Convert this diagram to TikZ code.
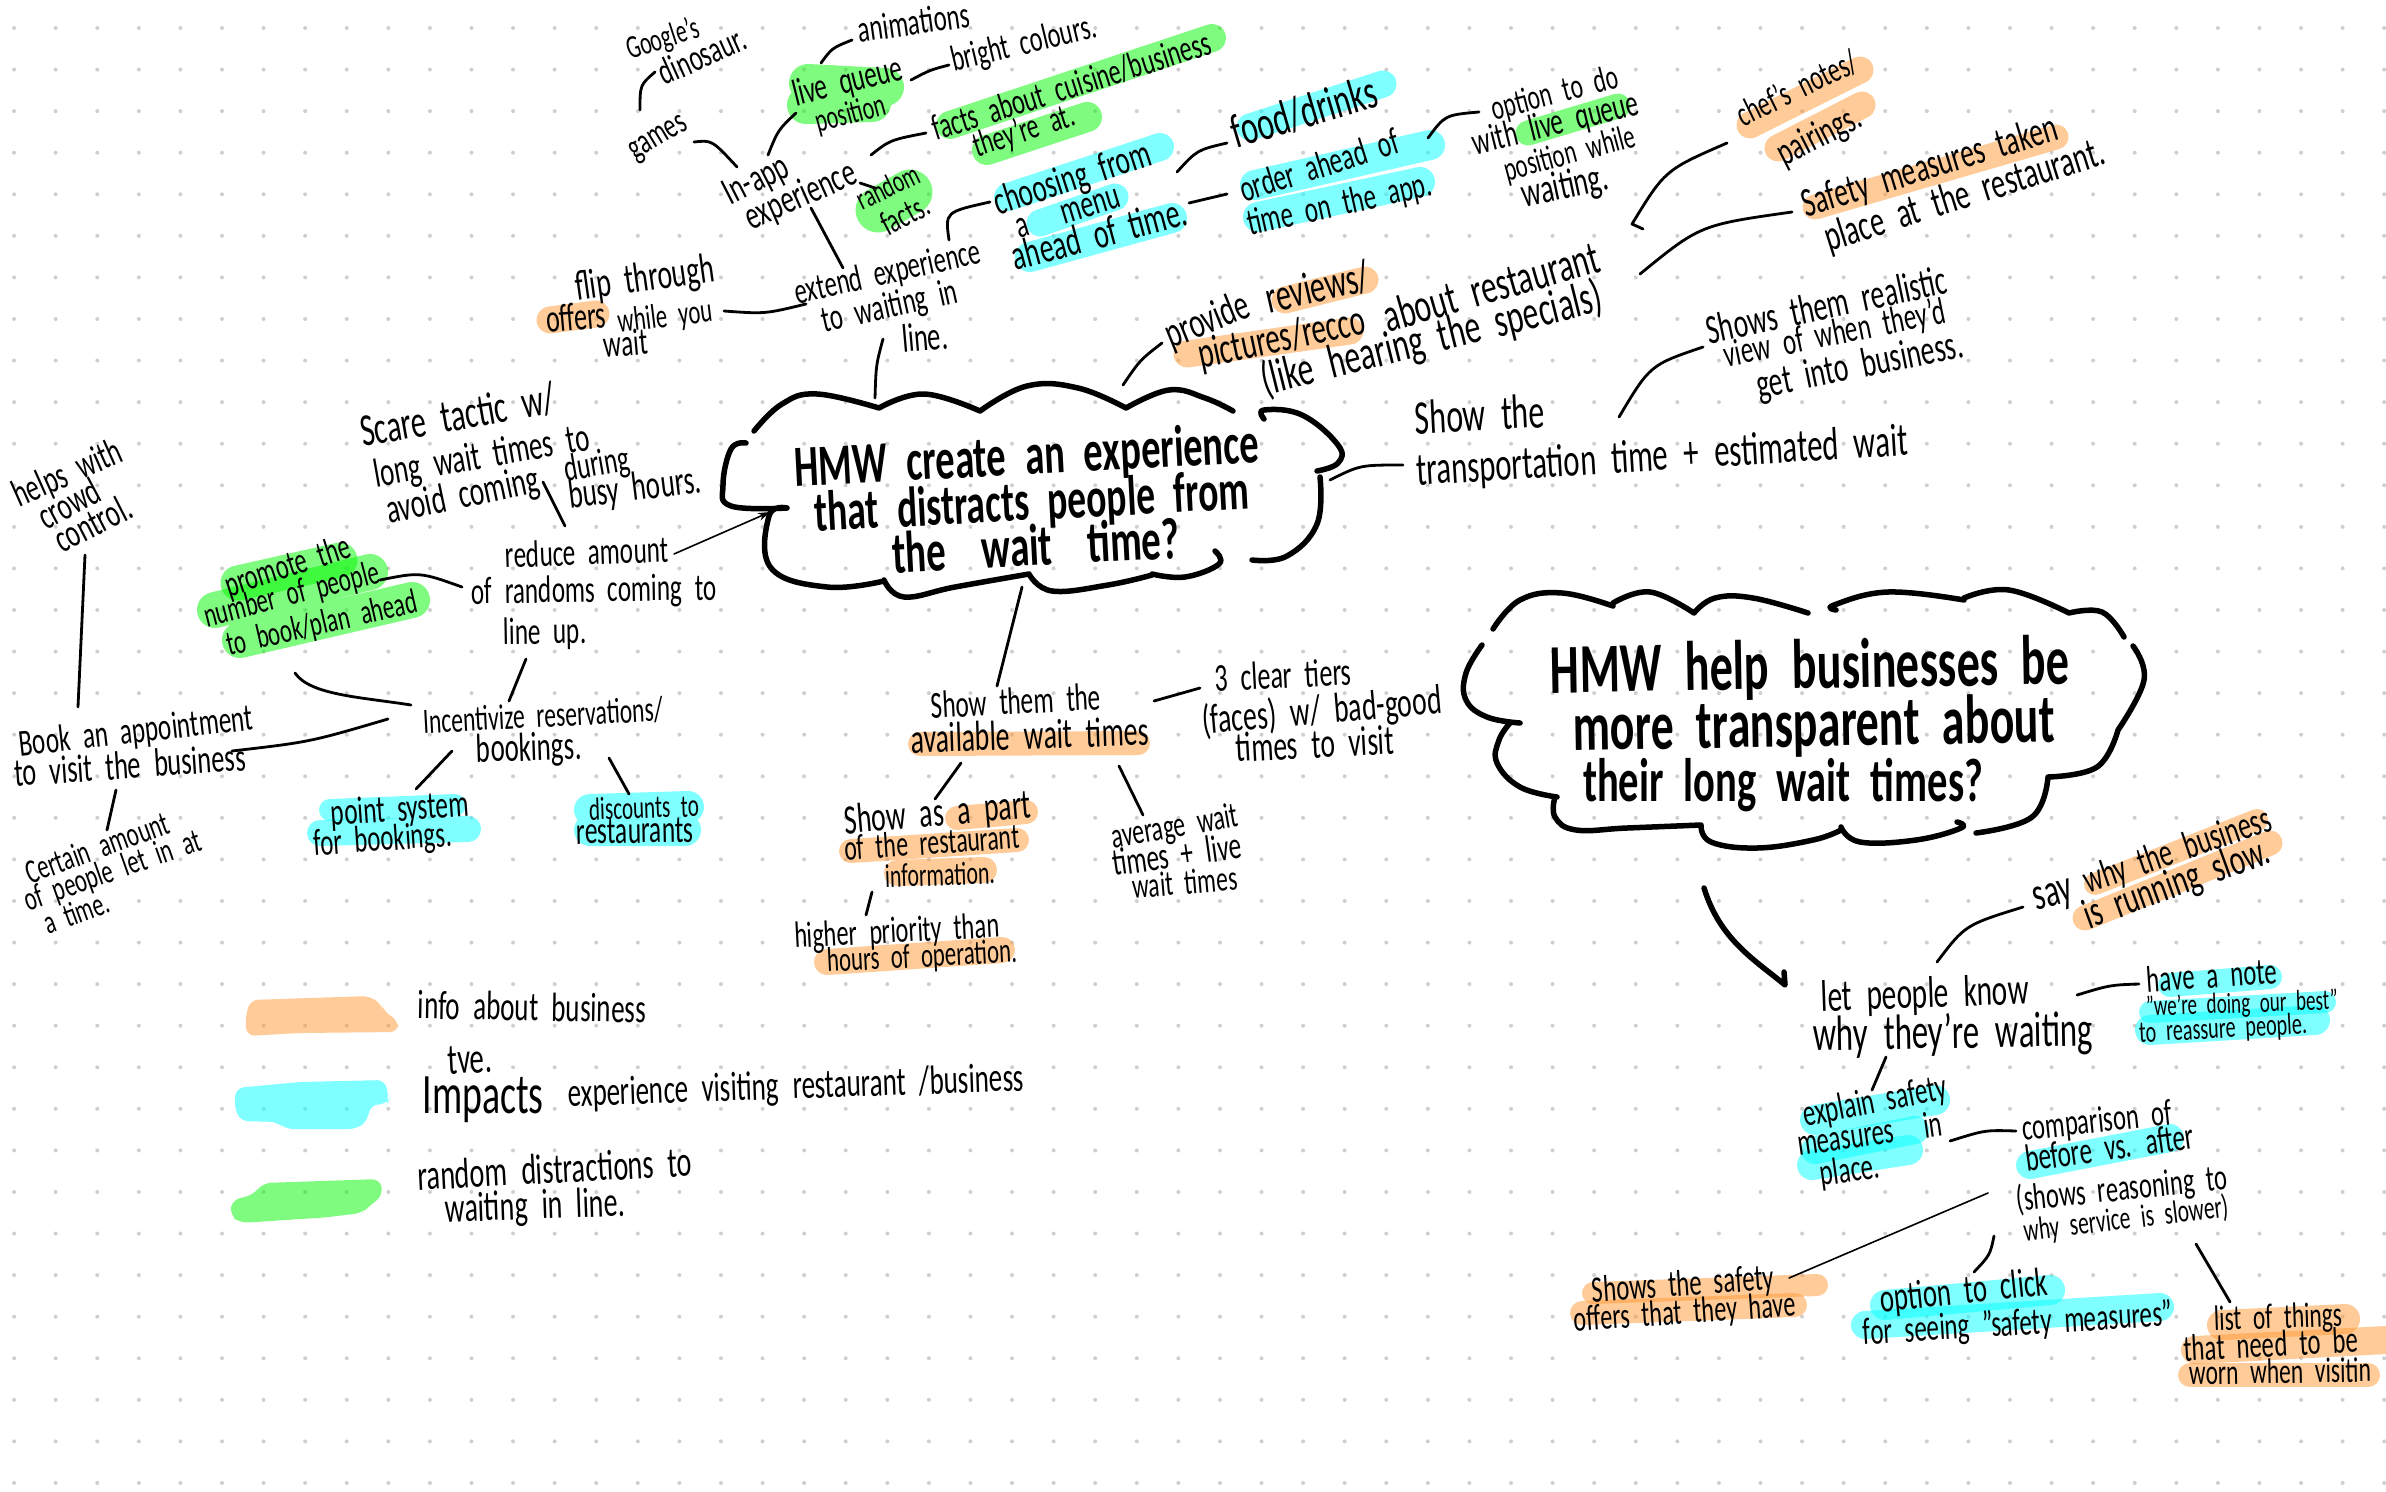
\documentclass[tikz,border=0pt]{standalone}
\usepackage{fontspec}
\usepackage{graphicx}
\usetikzlibrary{arrows.meta}
\setmainfont[FakeStretch=0.66,WordSpace=2.2]{Carlito}
\definecolor{hoc}{HTML}{FF9933}
\definecolor{hcc}{HTML}{00FFFF}
\definecolor{hgc}{HTML}{00F800}
\definecolor{dotc}{HTML}{CFCFCF}
\newlength\pxu
\setlength\pxu{0.01cm}
\newcommand\Tx[6][0]{\node[hwtext,rotate=#1] (#2) at (#3,#4) {\resizebox{#5\pxu}{!}{\vphantom{Ag}#6}};}
\tikzset{
  hwtext/.style={inner sep=0pt,outer sep=0pt,text=black,anchor=center},
  ho/.style={draw=hoc,draw opacity=.5,line cap=round,line join=round,line width=#1*0.01cm},
  hc/.style={draw=hcc,draw opacity=.5,line cap=round,line join=round,line width=#1*0.01cm},
  hg/.style={draw=hgc,draw opacity=.5,line cap=round,line join=round,line width=#1*0.01cm},
  conn/.style={draw=black,line width=0.028cm,line cap=round,line join=round},
  thinconn/.style={draw=black,line width=0.016cm,line cap=round},
  cloudline/.style={draw=black,line width=0.055cm,line cap=round,line join=round},
}
\begin{document}
\begin{tikzpicture}[x=0.01cm,y=-0.01cm]
\useasboundingbox (0,0) rectangle (2386,1491);
\fill[white] (0,0) rectangle (2386,1491);
% dot grid
\foreach \i in {0,...,57}{\foreach \j in {0,...,35}{
  \fill[dotc] ({14.1+41.58*\i},{28+41.57*\j}) circle[radius=2];}}
% highlights: green
\draw[hg=28] (950,125)--(1212,38);
\draw[hg=30] (987,150)--(1087,117);
\draw[hg=38] (808,83)--(885,87) (806,105)--(872,103);
\draw[hg=45] (878,210)--(910,192);
\draw[hg=25] (1528,133)--(1618,106);
\draw[hg=35] (238,583)--(340,560);
\draw[hg=36] (215,610)--(370,572) (240,640)--(412,600);
% highlights: cyan
\draw[hc=28] (1008,197)--(1160,147);
\draw[hc=27] (1040,223)--(1115,197);
\draw[hc=30] (1030,257)--(1172,218);
\draw[hc=27] (1250,127)--(1383,84);
\draw[hc=30] (1255,185)--(1430,145) (1258,217)--(1420,182);
\draw[hc=22] (330,810)--(455,805);
\draw[hc=26] (320,833)--(468,829);
\draw[hc=32] (590,810)--(688,807) (590,830)--(685,830);
\draw[hc=24] (2170,985)--(2270,977);
\draw[hc=22] (2150,1012)--(2325,1002);
\draw[hc=30] (2150,1030)--(2315,1020);
\draw[hc=30] (1815,1120)--(1935,1100);
\draw[hc=28] (1815,1150)--(1915,1130);
\draw[hc=30] (1812,1165)--(1908,1150);
\draw[hc=28] (2030,1165)--(2170,1138);
\draw[hc=30] (1885,1305)--(2050,1290);
\draw[hc=28] (1865,1325)--(2160,1307);
% highlights: orange
\draw[ho=27] (550,320)--(596,314);
\draw[ho=27] (1285,300)--(1365,280);
\draw[ho=27] (1187,354)--(1350,331);
\draw[ho=27] (1750,125)--(1860,70);
\draw[ho=27] (1778,148)--(1862,105);
\draw[ho=25] (1815,207)--(2056,137);
\draw[ho=24] (920,744)--(1138,743);
\draw[ho=24] (957,818)--(1026,812);
\draw[ho=24] (851,851)--(1017,840);
\draw[ho=26] (897,873)--(984,870);
\draw[ho=26] (827,962)--(1002,950);
\draw[ho=22] (1593,1293)--(1817,1285);
\draw[ho=24] (1582,1313)--(1795,1305);
\draw[ho=30] (2222,1325)--(2345,1319);
\draw[ho=28] (2195,1350)--(2386,1340);
\draw[ho=24] (2190,1375)--(2368,1375);
\draw[ho=22] (2095,884)--(2257,820);
\draw[ho=25] (2085,918)--(2270,843);
% legend swatches
\fill[hoc,fill opacity=.5,rounded corners=0.08cm] (250,1000)--(370,996)--(382,1005)--(384,1012)--(398,1020)--(398,1032)--(300,1033)--(247,1036)--(245,1020)--cycle;
\fill[hcc,fill opacity=.5,rounded corners=0.08cm] (236,1088)--(300,1082)--(385,1080)--(389,1100)--(387,1104)--(370,1105)--(368,1120)--(357,1129)--(285,1129)--(278,1122)--(240,1121)--(234,1105)--cycle;
\fill[hgc,fill opacity=.5,rounded corners=0.08cm] (263,1183)--(380,1179)--(383,1195)--(365,1210)--(362,1213)--(320,1218)--(316,1218)--(240,1223)--(230,1215)--(232,1200)--(253,1195)--cycle;
% cloud 1
\draw[cloudline]
 plot[smooth,tension=.7] coordinates {(754,431)(782,404)(817,394)(879,408)}
 plot[smooth,tension=.7] coordinates {(879,408)(924,394)(980,411)}
 plot[smooth,tension=.7] coordinates {(980,411)(1027,386)(1078,388)(1126,408)}
 plot[smooth,tension=.7] coordinates {(1126,408)(1169,390)(1205,398)(1233,411)}
 plot[smooth,tension=.7] coordinates {(1264,419)(1264,410)(1302,415)(1338,445)(1338,463)(1317,471)}
 plot[smooth,tension=.7] coordinates {(1320,477)(1317,524)(1287,556)(1252,560)}
 plot[smooth,tension=.7] coordinates {(1215,551)(1219,564)(1185,577)(1152,574)}
 plot[smooth,tension=.7] coordinates {(1152,575)(1108,585)(1052,591)(1029,574)}
 plot[smooth,tension=.7] coordinates {(1029,574)(955,587)(904,597)(884,580)}
 plot[smooth,tension=.7] coordinates {(884,581)(827,587)(771,568)(769,516)(787,508)}
 plot[smooth,tension=.7] coordinates {(787,508)(731,506)(723,485)(731,449)(746,443)};
% cloud 2
\draw[cloudline]
 plot[smooth,tension=.7] coordinates {(1493,629)(1520,600)(1562,593)(1613,606)}
 plot[smooth,tension=.7] coordinates {(1613,603)(1650,592)(1694,613)}
 plot[smooth,tension=.7] coordinates {(1694,613)(1715,598)(1753,598)(1808,613)}
 plot[smooth,tension=.7] coordinates {(1836,610)(1834,605)(1888,592)(1964,600)}
 plot[smooth,tension=.7] coordinates {(1964,598)(2009,590)(2069,613)}
 plot[smooth,tension=.7] coordinates {(2069,613)(2102,612)(2124,637)}
 plot[smooth,tension=.7] coordinates {(2133,646)(2144,680)(2118,730)}
 plot[smooth,tension=.7] coordinates {(2118,730)(2097,767)(2048,777)}
 plot[smooth,tension=.7] coordinates {(2048,777)(2032,817)(1976,833)}
 plot[smooth,tension=.7] coordinates {(1957,822)(1961,828)(1916,840)(1860,842)(1841,827)}
 plot[smooth,tension=.7] coordinates {(1841,830)(1813,840)(1757,848)(1711,842)(1701,825)}
 plot[smooth,tension=.7] coordinates {(1701,825)(1627,828)(1576,830)(1555,817)(1555,797)}
 plot[smooth,tension=.7] coordinates {(1557,797)(1520,787)(1497,763)(1499,740)(1510,723)}
 plot[smooth,tension=.7] coordinates {(1520,723)(1487,717)(1466,700)(1466,673)(1482,645)};
% texts: top
\Tx[18]{google}{663}{40}{75}{Google's}
\Tx[24]{dino}{703}{58}{92}{dinosaur.}
\Tx[31]{games}{658}{137}{62}{games}
\Tx[27]{inapp}{757}{182}{68}{In-app}
\Tx[24]{exper}{801}{197}{118}{experience}
\Tx[14]{live}{848}{83}{112}{live queue}
\Tx[15]{posn}{851}{115}{72}{position}
\Tx[8]{anim}{914}{25}{112}{animations}
\Tx[13.5]{bright}{1024}{45}{148}{bright colours.}
\Tx[17.5]{factsa}{1072}{88}{290}{facts about cuisine/business}
\Tx[18]{factsb}{1024}{132}{105}{they're at.}
\Tx[26]{rand}{889}{189}{66}{random}
\Tx[28]{randb}{906}{217}{50}{facts.}
\Tx[12.5]{extend}{888}{274}{190}{extend experience}
\Tx[12.5]{tow}{890}{308}{138}{to waiting in}
\Tx[5]{linew}{925}{340}{46}{line.}
\Tx[18]{choos}{1073}{180}{163}{choosing from}
\Tx[17]{menu}{1068}{214}{108}{a\hspace{0.9em}menu}
\Tx[15]{ahead}{1100}{237}{180}{ahead of time.}
\Tx[8]{flip}{645}{280}{140}{flip through}
\Tx[5]{offers}{576}{320}{60}{offers}
\Tx[7]{whileyou}{665}{318}{95}{while you}
\Tx[5]{waitw}{626}{346}{44}{wait}
\Tx[22]{provide}{1208}{322}{88}{provide}
\Tx[13]{reviews}{1318}{290}{105}{reviews/}
\Tx[12]{pictures}{1282}{340}{170}{pictures/recco}
\Tx[16]{about}{1492}{290}{222}{about restaurant}
\Tx[14]{special}{1432}{340}{350}{(like hearing the specials)}
\Tx[26]{chef}{1798}{90}{130}{chef's notes/}
\Tx[27]{pair}{1820}{137}{90}{pairings.}
\Tx[17]{safe}{1930}{168}{265}{Safety measures taken}
\Tx[17.5]{place}{1965}{197}{292}{place at the restaurant.}
\Tx[16.5]{food}{1305}{115}{150}{food/drinks}
\Tx[17.5]{order}{1320}{168}{165}{order ahead of}
\Tx[12.5]{tapp}{1340}{206}{188}{time on the app.}
\Tx[14.5]{option}{1555}{95}{130}{option to do}
\Tx[14]{withl}{1556}{125}{170}{with live queue}
\Tx[15]{posw}{1570}{155}{135}{position while}
\Tx[12]{waitg}{1565}{188}{88}{waiting.}
\Tx[12]{shows}{1827}{308}{245}{Shows them realistic}
\Tx[11.5]{view}{1835}{335}{225}{view of when they'd}
\Tx[11.5]{getin}{1860}{367}{210}{get into business.}
\Tx[3]{showt}{1480}{418}{130}{Show the}
\Tx[3.5]{transp}{1662}{458}{492}{transportation time + estimated wait}
% main question 1
\Tx[3]{hmwa}{1027}{459}{465}{\bfseries HMW create an experience}
\Tx[3]{hmwb}{1032}{505}{435}{\bfseries that distracts people from}
\Tx[3]{hmwc}{1036}{550}{287}{\bfseries the\hspace{0.6em}wait\hspace{0.6em}time?}
% centre-bottom
\Tx[3]{showth}{1016}{704}{170}{Show them the}
\Tx[2]{avail}{1030}{738}{238}{available wait times}
\Tx[3]{tiers}{1283}{678}{137}{3 clear tiers}
\Tx[5]{faces}{1322}{712}{240}{(faces) w/ bad-good}
\Tx[3]{tvisit}{1315}{747}{158}{times to visit}
\Tx[5]{showas}{938}{815}{187}{Show as a part}
\Tx[4]{ofrest}{932}{845}{175}{of the restaurant}
\Tx[2]{infor}{940}{877}{110}{information.}
\Tx[3]{higher}{897}{933}{205}{higher priority than}
\Tx[3]{hours}{922}{958}{190}{hours of operation.}
\Tx[10]{aver}{1175}{828}{128}{average wait}
\Tx[8]{tlive}{1177}{857}{130}{times + live}
\Tx[5]{wtimes}{1185}{885}{105}{wait times}
% left
\Tx[24]{helps}{68}{475}{115}{helps with}
\Tx[28]{crowd}{70}{506}{65}{crowd}
\Tx[27]{contr}{94}{526}{82}{control.}
\Tx[6.5]{bookan}{136}{733}{235}{Book an appointment}
\Tx[4]{tovis}{130}{768}{232}{to visit the business}
\Tx[20]{cert}{98}{850}{150}{Certain amount}
\Tx[19.5]{ofpeop}{113}{872}{185}{of people let in at}
\Tx[20]{atime}{77}{915}{68}{a time.}
\Tx[10]{scare}{458}{418}{197}{Scare tactic w/}
\Tx[10]{longw}{482}{458}{218}{long wait times to}
\Tx[12]{avoid}{463}{497}{155}{avoid coming}
\Tx[10]{during}{597}{466}{66}{during}
\Tx[7]{busy}{635}{490}{133}{busy hours.}
\Tx[2]{reduce}{587}{555}{163}{reduce amount}
\Tx[1]{ofrand}{594}{592}{245}{of randoms coming to}
\Tx[1]{lineup}{545}{634}{83}{line up.}
\Tx[18]{promote}{288}{568}{130}{promote the}
\Tx[14.5]{numb}{292}{596}{180}{number of people}
\Tx[13]{tobook}{322}{625}{195}{to book/plan ahead}
\Tx[3]{incent}{543}{718}{240}{Incentivize reservations/}
\Tx[2]{bookings}{529}{750}{105}{bookings.}
\Tx[4]{point}{400}{811}{138}{point system}
\Tx[4]{forb}{383}{841}{138}{for bookings.}
\Tx[2]{disc}{644}{810}{110}{discounts to}
\Tx[1]{restrs}{635}{834}{117}{restaurants}
% legend
\Tx[-1]{leginfo}{532}{1010}{228}{info about business}
\Tx[3]{legtve}{470}{1063}{44}{tve.}
\Tx{legimp}{483}{1100}{121}{Impacts}
\Tx[2]{legexp}{796}{1088}{456}{experience visiting restaurant /business}
\Tx[3]{legrand}{555}{1172}{275}{random distractions to}
\Tx[2]{legwait}{535}{1208}{180}{waiting in line.}
% main question 2
\Tx[1]{hmba}{1810}{670}{519}{\bfseries HMW help businesses be}
\Tx[1]{hmbb}{1814}{728}{482}{\bfseries more transparent about}
\Tx{hmbc}{1783}{785}{400}{\bfseries their long wait times?}
% right
\Tx[15]{say}{2053}{895}{40}{say}
\Tx[19]{whyb}{2178}{852}{196}{why the business}
\Tx[20]{isrun}{2177}{885}{195}{is running slow.}
\Tx[2]{letp}{1925}{996}{208}{let people know}
\Tx[1]{whyw}{1953}{1035}{280}{why they're waiting}
\Tx[4]{note}{2212}{978}{130}{have a note}
\Tx[2]{doing}{2242}{1005}{192}{"we're doing our best"}
\Tx[3]{reass}{2223}{1030}{168}{to reassure people.}
\Tx[11]{expl}{1875}{1103}{146}{explain safety}
\Tx[8]{meas}{1870}{1136}{146}{measures\hspace{0.8em}in}
\Tx[8]{placed}{1850}{1172}{60}{place.}
\Tx[6]{compar}{2097}{1123}{150}{comparison of}
\Tx[8]{before}{2110}{1150}{170}{before vs. after}
\Tx[6]{reason}{2122}{1190}{212}{(shows reasoning to}
\Tx[7]{servi}{2126}{1220}{206}{why service is slower)}
\Tx[4]{safa}{1683}{1286}{182}{Shows the safety}
\Tx[4]{safb}{1685}{1314}{222}{offers that they have}
\Tx[6]{click}{1964}{1293}{168}{option to click}
\Tx[3.5]{seeing}{2018}{1325}{310}{for seeing "safety measures"}
\Tx[2]{list}{2278}{1319}{128}{list of things}
\Tx[3]{need}{2271}{1347}{174}{that need to be}
\Tx[1]{worn}{2280}{1374}{182}{worn when visitin}
% connectors
\draw[conn] ([shift={(-18,-27)}]games.center) .. controls (640,85) .. ([shift={(-48,14)}]dino.center);
\draw[conn] ([shift={(36,5)}]games.center) .. controls (712,140) .. ([shift={(-20,-15)}]inapp.center);
\draw[conn] ([shift={(11,-27)}]inapp.center) .. controls (778,130) .. ([shift={(-55,-2)}]posn.center);
\draw[conn] ([shift={(-27,-20)}]live.center) .. controls (832,48) .. ([shift={(-62,15)}]anim.center);
\draw[conn] ([shift={(63,-3)}]live.center) .. controls (930,70) .. ([shift={(-75,20)}]bright.center);
\draw[conn] ([shift={(70,-42)}]exper.center) .. controls (890,140) .. ([shift={(-146,45)}]factsa.center);
\draw[conn] ([shift={(59,-14)}]exper.center) -- ([shift={(-14,-1)}]rand.center);
\draw[conn] ([shift={(10,11)}]exper.center) -- ([shift={(-45,-6)}]extend.center);
\draw[conn] ([shift={(61,-34)}]extend.center) .. controls (945,212) .. ([shift={(-83,22)}]choos.center);
\draw[conn] ([shift={(104,-8)}]choos.center) .. controls (1197,150) .. ([shift={(-78,28)}]food.center);
\draw[conn] ([shift={(89,-34)}]ahead.center) -- ([shift={(-93,26)}]order.center);
\draw[conn] ([shift={(108,-30)}]order.center) .. controls (1445,115) .. ([shift={(-76,17)}]option.center);
\draw[conn] ([shift={(59,-7)}]whileyou.center) .. controls (765,314) .. ([shift={(-84,-4)}]tow.center);
\draw[conn] ([shift={(-42,-1)}]linew.center) .. controls (876,365) .. ([shift={(-152,-61)}]hmwa.center);
\draw[conn] ([shift={(96,-74)}]hmwa.center) .. controls (1140,360) .. ([shift={(-46,21)}]provide.center);
\draw[conn] ([shift={(151,-61)}]about.center) -- (1632,224) .. controls (1665,170) .. ([shift={(-71,53)}]chef.center);
\draw[conn] ([shift={(148,-16)}]about.center) .. controls (1700,225) .. ([shift={(-138,44)}]safe.center);
\draw[conn] ([shift={(-43,-41)}]transp.center) .. controls (1650,365) .. ([shift={(-132,12)}]view.center);
\draw[conn] ([shift={(303,21)}]hmwa.center) .. controls (1360,465) .. ([shift={(-259,7)}]transp.center);
\draw[thinconn,-{Stealth[length=0.12cm,width=0.08cm]}] ([shift={(87,-1)}]reduce.center) -- ([shift={(-262,7)}]hmwb.center);
\draw[conn] ([shift={(88,-16)}]numb.center) .. controls (420,572) .. ([shift={(-132,-5)}]ofrand.center);
\draw[conn] ([shift={(80,-15)}]avoid.center) -- ([shift={(-22,-29)}]reduce.center);
\draw[conn] ([shift={(-19,25)}]lineup.center) -- ([shift={(-34,-17)}]incent.center);
\draw[conn] ([shift={(-27,48)}]tobook.center) .. controls (310,695) and (360,697) .. ([shift={(-132,-13)}]incent.center);
\draw[conn] ([shift={(-155,1)}]incent.center) .. controls (310,742) .. ([shift={(102,-17)}]tovis.center);
\draw[conn] ([shift={(-9,29)}]contr.center) -- ([shift={(-58,-26)}]bookan.center);
\draw[conn] ([shift={(-14,22)}]tovis.center) -- ([shift={(9,-20)}]cert.center);
\draw[conn] ([shift={(-77,1)}]bookings.center) -- ([shift={(16,-22)}]point.center);
\draw[conn] ([shift={(80,8)}]bookings.center) -- ([shift={(-15,-16)}]disc.center);
\draw[conn] ([shift={(-14,37)}]hmwc.center) -- ([shift={(-19,-18)}]showth.center);
\draw[conn] ([shift={(138,-3)}]showth.center) -- ([shift={(-83,10)}]tiers.center);
\draw[conn] ([shift={(-69,25)}]avail.center) -- ([shift={(-3,-16)}]showas.center);
\draw[conn] ([shift={(89,28)}]avail.center) -- ([shift={(-32,-13)}]aver.center);
\draw[conn] ([shift={(-68,15)}]infor.center) -- ([shift={(-31,-18)}]higher.center);
\draw[cloudline] ([shift={(-79,103)}]hmbc.center) .. controls (1720,940) and (1755,960) .. ([shift={(-140,-11)}]letp.center) -- (1784,972);
\draw[conn] ([shift={(12,-34)}]letp.center) .. controls (1965,925) .. ([shift={(-30,12)}]say.center);
\draw[conn] ([shift={(152,-1)}]letp.center) .. controls (2110,985) .. ([shift={(-73,6)}]note.center);
\draw[conn] ([shift={(-67,22)}]whyw.center) -- ([shift={(-3,-13)}]expl.center);
\draw[conn] ([shift={(80,5)}]meas.center) .. controls (1985,1130) .. ([shift={(-81,8)}]compar.center);
\draw[thinconn] ([shift={(-134,3)}]reason.center) -- ([shift={(106,-8)}]safa.center);
\draw[conn] ([shift={(-132,16)}]servi.center) .. controls (1990,1255) .. ([shift={(10,-21)}]click.center);
\draw[conn] ([shift={(70,24)}]servi.center) -- ([shift={(-48,-17)}]list.center);
\end{tikzpicture}
\end{document}
